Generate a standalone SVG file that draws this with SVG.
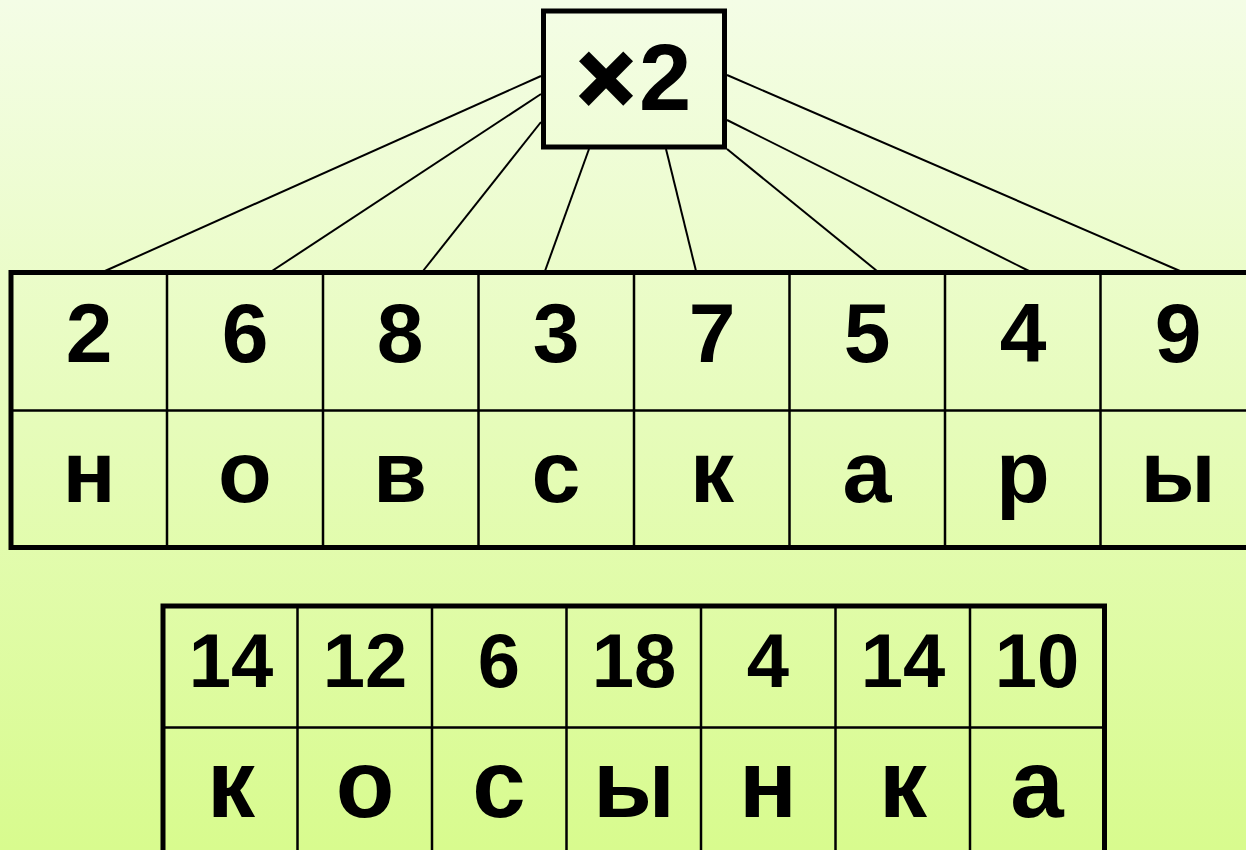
<svg xmlns="http://www.w3.org/2000/svg" width="1246" height="850" viewBox="0 0 1246 850">
<defs>
<linearGradient id="bg" x1="0" y1="0" x2="0" y2="1">
<stop offset="0" stop-color="#f4fde6"/>
<stop offset="1" stop-color="#d8fb8e"/>
</linearGradient>
</defs>
<style>
.outer{fill:none;stroke:#000;stroke-width:5}
.grid{fill:none;stroke:#000;stroke-width:2.5}
.con{stroke:#000;stroke-width:2;fill:none}
.t{font-family:"Liberation Sans",Arial,sans-serif;font-weight:bold;fill:#000;text-anchor:middle}
.n1{font-size:84px}
.l1{font-size:88px}
.n2{font-size:76px}
.l2{font-size:96px}
</style>
<rect x="0" y="0" width="1246" height="850" fill="url(#bg)"/>
<g id="connectors">
<line class="con" x1="541" y1="76" x2="105" y2="271"/>
<line class="con" x1="541" y1="94" x2="272" y2="271"/>
<line class="con" x1="541" y1="122" x2="423" y2="271"/>
<line class="con" x1="589" y1="149" x2="545" y2="271"/>
<line class="con" x1="666" y1="149" x2="696" y2="271"/>
<line class="con" x1="727" y1="149" x2="877" y2="271"/>
<line class="con" x1="727" y1="120" x2="1029" y2="271"/>
<line class="con" x1="727" y1="75" x2="1180" y2="271"/>
</g>
<g id="multiplier">
<rect class="outer" x="543.5" y="11" width="181" height="136" fill="#f0fcd8"/>
<text class="t" x="634" y="110" font-size="94"><tspan font-size="100" stroke="#000" stroke-width="3" dy="2">×</tspan><tspan dy="-2" dx="4">2</tspan></text>
</g>
<g id="table1">
<line class="grid" x1="11" y1="410.5" x2="1250" y2="410.5"/>
<line class="grid" x1="167" y1="272.5" x2="167" y2="547.5"/>
<line class="grid" x1="323" y1="272.5" x2="323" y2="547.5"/>
<line class="grid" x1="478.5" y1="272.5" x2="478.5" y2="547.5"/>
<line class="grid" x1="634" y1="272.5" x2="634" y2="547.5"/>
<line class="grid" x1="789.5" y1="272.5" x2="789.5" y2="547.5"/>
<line class="grid" x1="945" y1="272.5" x2="945" y2="547.5"/>
<line class="grid" x1="1100.5" y1="272.5" x2="1100.5" y2="547.5"/>
<rect class="outer" x="11" y="272.5" width="1245" height="275"/>
<g class="t n1">
<text x="89" y="362">2</text>
<text x="245" y="362">6</text>
<text x="400" y="362">8</text>
<text x="556" y="362">3</text>
<text x="712" y="362">7</text>
<text x="867" y="362">5</text>
<text x="1023" y="362">4</text>
<text x="1178" y="362">9</text>
</g>
<g class="t l1">
<text x="89" y="502">н</text>
<text x="245" y="502">о</text>
<text x="400" y="502">в</text>
<text x="556" y="502">с</text>
<text x="712" y="502">к</text>
<text x="867" y="502">а</text>
<text x="1023" y="502">р</text>
<text x="1178" y="502">ы</text>
</g>
</g>
<g id="table2">
<line class="grid" x1="163" y1="727.5" x2="1104.5" y2="727.5"/>
<line class="grid" x1="297.5" y1="606" x2="297.5" y2="855"/>
<line class="grid" x1="432" y1="606" x2="432" y2="855"/>
<line class="grid" x1="566.5" y1="606" x2="566.5" y2="855"/>
<line class="grid" x1="701" y1="606" x2="701" y2="855"/>
<line class="grid" x1="835.5" y1="606" x2="835.5" y2="855"/>
<line class="grid" x1="970" y1="606" x2="970" y2="855"/>
<rect class="outer" x="163" y="606" width="941.5" height="260"/>
<g class="t n2">
<text x="231" y="687">14</text>
<text x="365" y="687">12</text>
<text x="499" y="687">6</text>
<text x="634" y="687">18</text>
<text x="768" y="687">4</text>
<text x="903" y="687">14</text>
<text x="1037" y="687">10</text>
</g>
<g class="t l2">
<text x="231" y="817">к</text>
<text x="365" y="817">о</text>
<text x="499" y="817">с</text>
<text x="634" y="817">ы</text>
<text x="768" y="817">н</text>
<text x="903" y="817">к</text>
<text x="1037" y="817">а</text>
</g>
</g>
</svg>
